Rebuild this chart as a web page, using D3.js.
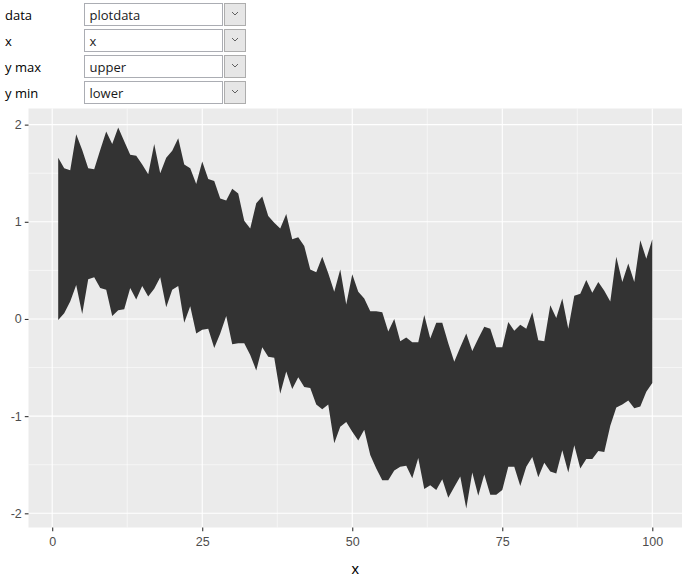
<!DOCTYPE html>
<html>
<head>
<meta charset="utf-8">
<script src="https://cdn.jsdelivr.net/npm/d3@7"></script>
<style>
  html, body { margin: 0; padding: 0; background: #ffffff; }
  svg { display: block; }
</style>
</head>
<body>
<svg id="chart" width="686" height="579"></svg>
<script>
// ---- data ----
const xValues = d3.range(1, 101);
const upper = [
  1.66, 1.55, 1.53, 1.90, 1.74, 1.55, 1.54, 1.74, 1.93, 1.80,
  1.97, 1.83, 1.69, 1.68, 1.59, 1.49, 1.80, 1.50, 1.66, 1.73,
  1.86, 1.59, 1.55, 1.39, 1.62, 1.44, 1.42, 1.24, 1.22, 1.34,
  1.29, 1.01, 0.93, 1.19, 1.26, 1.06, 0.99, 0.93, 1.08, 0.82,
  0.84, 0.75, 0.51, 0.48, 0.64, 0.47, 0.28, 0.51, 0.15, 0.46,
  0.28, 0.21, 0.08, 0.08, 0.07, -0.13, 0.00, -0.23, -0.19, -0.24,
  -0.24, 0.04, -0.20, -0.04, -0.04, -0.25, -0.44, -0.29, -0.15, -0.33,
  -0.20, -0.08, -0.10, -0.29, -0.29, -0.03, -0.12, -0.06, -0.10, 0.07,
  -0.22, -0.23, 0.14, 0.01, 0.21, -0.10, 0.24, 0.26, 0.40, 0.27,
  0.38, 0.29, 0.18, 0.64, 0.38, 0.57, 0.38, 0.81, 0.62, 0.82
];
const lower = [
  -0.01, 0.06, 0.18, 0.35, 0.05, 0.41, 0.43, 0.32, 0.30, 0.03,
  0.09, 0.10, 0.32, 0.20, 0.34, 0.23, 0.31, 0.43, 0.12, 0.30,
  0.34, -0.04, 0.13, -0.15, -0.11, -0.10, -0.30, -0.15, 0.03, -0.26,
  -0.25, -0.25, -0.37, -0.53, -0.29, -0.39, -0.40, -0.77, -0.54, -0.72,
  -0.60, -0.70, -0.71, -0.88, -0.93, -0.88, -1.28, -1.11, -1.06, -1.16,
  -1.25, -1.14, -1.40, -1.54, -1.66, -1.66, -1.56, -1.52, -1.51, -1.64,
  -1.43, -1.75, -1.71, -1.76, -1.65, -1.84, -1.73, -1.62, -1.95, -1.58,
  -1.82, -1.60, -1.81, -1.81, -1.76, -1.52, -1.52, -1.72, -1.52, -1.42,
  -1.63, -1.48, -1.57, -1.59, -1.35, -1.58, -1.30, -1.54, -1.44, -1.44,
  -1.36, -1.37, -1.10, -0.91, -0.88, -0.84, -0.92, -0.90, -0.75, -0.66
];
const xTicks = [0, 25, 50, 75, 100];
const xMinor = [12.5, 37.5, 62.5, 87.5];
const yTicks = [-2, -1, 0, 1, 2];
const yMinor = [-1.5, -0.5, 0.5, 1.5];
const controlLabels = ["data", "x", "y max", "y min"];
const controlValues = ["plotdata", "x", "upper", "lower"];
const xTitle = "x";

// ---- layout ----
const svg = d3.select("#chart");
const panel = { left: 28.5, right: 682, top: 108.5, bottom: 527.5 };

// ggplot-style 5% expansion
const xExt = d3.extent(xValues);
const xPad = (xExt[1] - xExt[0]) * 0.05;
const yExt = [d3.min(lower), d3.max(upper)];
const yPad = (yExt[1] - yExt[0]) * 0.05;

const x = d3.scaleLinear().domain([xExt[0] - xPad, xExt[1] + xPad]).range([panel.left, panel.right]);
const y = d3.scaleLinear().domain([yExt[0] - yPad, yExt[1] + yPad]).range([panel.bottom, panel.top]);

// ---- controls ----
const uiFont = "'Open Sans', 'Noto Sans', sans-serif";
const ctrl = svg.append("g");
controlLabels.forEach((lab, i) => {
  const top = 3.5 + i * 26;
  ctrl.append("text").attr("x", 5).attr("y", top + 16)
    .style("font-family", uiFont).style("font-size", "13px").attr("fill", "#000")
    .text(lab);
  ctrl.append("rect").attr("x", 84.5).attr("y", top).attr("width", 138).attr("height", 22)
    .attr("fill", "#ffffff").attr("stroke", "#abadb3").attr("stroke-width", 1);
  ctrl.append("text").attr("x", 89.5).attr("y", top + 16)
    .style("font-family", uiFont).style("font-size", "13px").attr("fill", "#1a1a1a")
    .text(controlValues[i]);
  ctrl.append("rect").attr("x", 224.5).attr("y", top).attr("width", 21).attr("height", 22)
    .attr("fill", "#e6e6e6").attr("stroke", "#adadad").attr("stroke-width", 1);
  const cx = 235, cy = top + 10;
  ctrl.append("path")
    .attr("d", `M${cx - 3},${cy - 1.5} L${cx},${cy + 1.5} L${cx + 3},${cy - 1.5}`)
    .attr("fill", "none").attr("stroke", "#606060").attr("stroke-width", 1);
});

// ---- panel ----
svg.append("rect")
  .attr("x", panel.left).attr("y", panel.top)
  .attr("width", panel.right - panel.left).attr("height", panel.bottom - panel.top)
  .attr("fill", "#ebebeb");

const grid = svg.append("g");
grid.selectAll(".xminor").data(xMinor).enter().append("line")
  .attr("x1", d => x(d)).attr("x2", d => x(d))
  .attr("y1", panel.top).attr("y2", panel.bottom)
  .attr("stroke", "#ffffff").attr("stroke-width", 0.55);
grid.selectAll(".yminor").data(yMinor).enter().append("line")
  .attr("y1", d => y(d)).attr("y2", d => y(d))
  .attr("x1", panel.left).attr("x2", panel.right)
  .attr("stroke", "#ffffff").attr("stroke-width", 0.55);
grid.selectAll(".xmajor").data(xTicks).enter().append("line")
  .attr("x1", d => x(d)).attr("x2", d => x(d))
  .attr("y1", panel.top).attr("y2", panel.bottom)
  .attr("stroke", "#ffffff").attr("stroke-width", 1.1);
grid.selectAll(".ymajor").data(yTicks).enter().append("line")
  .attr("y1", d => y(d)).attr("y2", d => y(d))
  .attr("x1", panel.left).attr("x2", panel.right)
  .attr("stroke", "#ffffff").attr("stroke-width", 1.1);

// ---- ribbon ----
const data = xValues.map((v, i) => ({ x: v, lo: lower[i], hi: upper[i] }));
const area = d3.area().x(d => x(d.x)).y0(d => y(d.lo)).y1(d => y(d.hi));
svg.append("path").datum(data).attr("d", area).attr("fill", "#333333");

// ---- axes ----
const axFont = "'Liberation Sans', Arial, sans-serif";
const fmt = d => String(d);
const xAxis = svg.append("g").attr("transform", `translate(0,${panel.bottom})`)
  .call(d3.axisBottom(x).tickValues(xTicks).tickSize(3.7).tickPadding(6).tickFormat(fmt));
const yAxis = svg.append("g").attr("transform", `translate(${panel.left},0)`)
  .call(d3.axisLeft(y).tickValues(yTicks).tickSize(3.7).tickPadding(3).tickFormat(fmt));
[xAxis, yAxis].forEach(a => {
  a.attr("font-size", null).attr("font-family", null);
  a.select(".domain").remove();
  a.selectAll(".tick line").attr("stroke", "#333333").attr("stroke-width", 1.1);
  a.selectAll(".tick text").attr("fill", "#4d4d4d")
    .style("font-size", "12.5px").style("font-family", axFont);
});

svg.append("text")
  .attr("x", (panel.left + panel.right) / 2).attr("y", 574)
  .attr("text-anchor", "middle")
  .style("font-family", axFont).style("font-size", "15px").attr("fill", "#000")
  .text(xTitle);
</script>
</body>
</html>
